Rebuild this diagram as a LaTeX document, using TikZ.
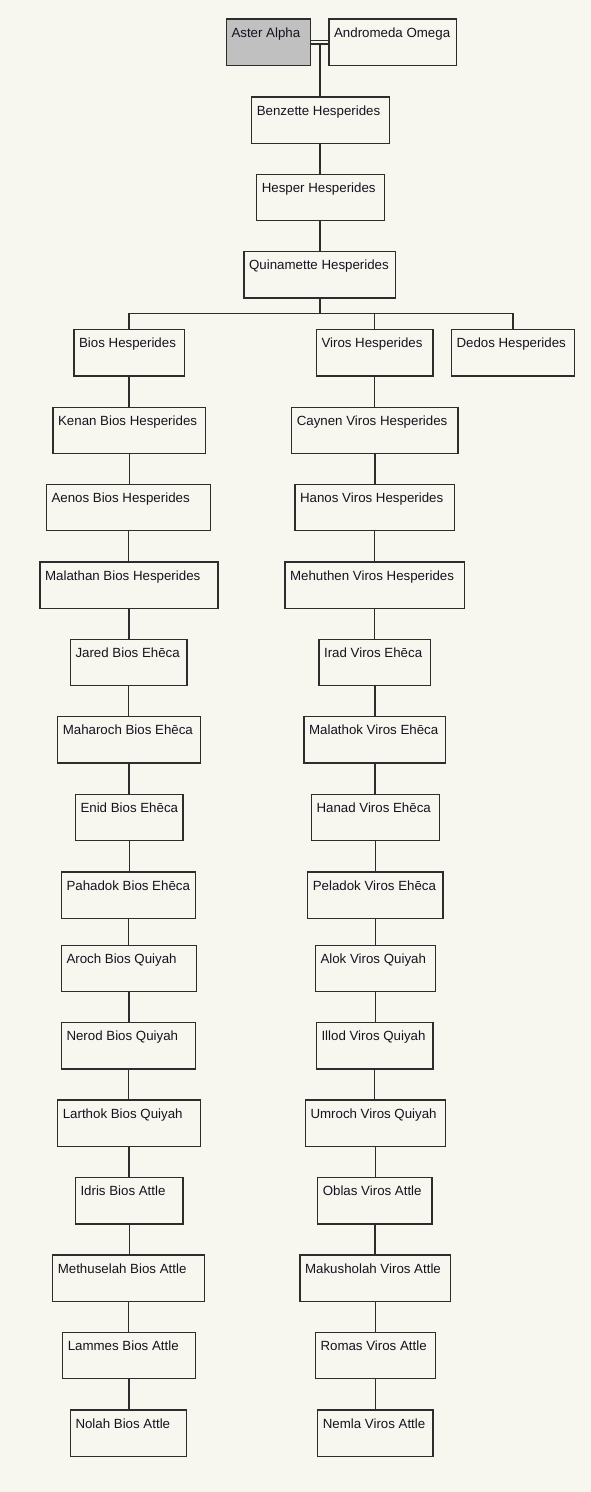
\documentclass[tikz,border=0pt]{standalone}
\usepackage{fontspec}
\setmainfont{Liberation Sans}
\definecolor{bgc}{RGB}{247,246,239}
\definecolor{linec}{RGB}{45,45,45}
\definecolor{txtc}{RGB}{20,20,30}
\definecolor{selc}{RGB}{192,192,192}
\tikzset{
  box/.style={draw=linec, line width=1.4pt, fill=bgc, rectangle, inner sep=0pt, anchor=north, minimum height=46.2pt},
  lbl/.style={anchor=base west, inner sep=0pt, text=txtc, font=\fontsize{13.3}{16}\selectfont},
  conn/.style={draw=linec, line width=1.4pt},
}
\newcommand{\bx}[6][]{%
  \node[box,#1, minimum width={#4-#3-1.4}] (#2) at ({(#3+#4)/2},{#5+0.7}) {};
  \node[lbl] at ([xshift=5.6pt,yshift=-18.8pt]#2.north west) {#6};
}
\begin{document}
\begin{tikzpicture}[x=1pt,y=-1pt]
\fill[bgc] (0,0) rectangle (591,1492);
\useasboundingbox (0,0) rectangle (591,1492);

% top rows
\bx[fill=selc]{aster}{225.7}{311.3}{17.7}{Aster Alpha}
\bx{andro}{328.3}{457.3}{17.7}{Andromeda Omega}
\bx{benz}{251}{390}{95.7}{Benzette Hesperides}
\bx{hesp}{256}{385}{173}{Hesper Hesperides}
\bx{quin}{243.3}{396}{250.3}{Quinamette Hesperides}

% row 4
\bx{bios}{73.3}{185}{328.3}{Bios Hesperides}
\bx{viros}{315.7}{433.7}{328.3}{Viros Hesperides}
\bx{dedos}{450.7}{575}{328.3}{Dedos Hesperides}

% left column
\bx{kenan}{52.3}{206.3}{406}{Kenan Bios Hesperides}
\bx{aenos}{45.7}{211.3}{483}{Aenos Bios Hesperides}
\bx{malathan}{39.3}{218.7}{560.7}{Malathan Bios Hesperides}
\bx{jared}{69.7}{187.7}{638}{Jared Bios Ehēca}
\bx{maharoch}{57}{201.3}{715.3}{Maharoch Bios Ehēca}
\bx{enid}{74.7}{183.7}{793}{Enid Bios Ehēca}
\bx{pahadok}{60.7}{196.3}{870.7}{Pahadok Bios Ehēca}
\bx{aroch}{60.7}{197.3}{944}{Aroch Bios Quiyah}
\bx{nerod}{60.7}{196.3}{1021.3}{Nerod Bios Quiyah}
\bx{larthok}{57}{201.3}{1098.7}{Larthok Bios Quiyah}
\bx{idris}{74.7}{183.7}{1176.3}{Idris Bios Attle}
\bx{methuselah}{52}{205}{1253.7}{Methuselah Bios Attle}
\bx{lammes}{62}{196.3}{1331}{Lammes Bios Attle}
\bx{nolah}{69.7}{187.3}{1408.7}{Nolah Bios Attle}

% right column
\bx{caynen}{291}{458.7}{406}{Caynen Viros Hesperides}
\bx{hanos}{294.3}{455}{483}{Hanos Viros Hesperides}
\bx{mehuthen}{284.3}{465}{560.7}{Mehuthen Viros Hesperides}
\bx{irad}{318.3}{431.3}{638}{Irad Viros Ehēca}
\bx{malathok}{303.3}{446.3}{715.3}{Malathok Viros Ehēca}
\bx{hanad}{310.7}{440}{793}{Hanad Viros Ehēca}
\bx{peladok}{307}{443.7}{870.7}{Peladok Viros Ehēca}
\bx{alok}{314.7}{436}{944}{Alok Viros Quiyah}
\bx{illod}{315.7}{433.7}{1021.3}{Illod Viros Quiyah}
\bx{umroch}{304.7}{446.3}{1098.7}{Umroch Viros Quiyah}
\bx{oblas}{317}{432.7}{1176.3}{Oblas Viros Attle}
\bx{makusholah}{299.3}{451.3}{1253.7}{Makusholah Viros Attle}
\bx{romas}{314.7}{436.3}{1331}{Romas Viros Attle}
\bx{nemla}{317}{433.7}{1408.7}{Nemla Viros Attle}

% marriage double line
\draw[conn] ([yshift=-22.3pt]aster.north east) -- ([yshift=-22.3pt]andro.north west);
\path ([yshift=-25.6pt]aster.north east) -- ([yshift=-25.6pt]andro.north west) coordinate[midway] (mar);
\draw[conn] ([yshift=-25.6pt]aster.north east) -- ([yshift=-25.6pt]andro.north west);
\draw[conn] (mar) -- (mar |- benz.north);

% trunk
\draw[conn] (benz.south -| mar) -- (hesp.north -| mar);
\draw[conn] (hesp.south -| mar) -- (quin.north -| mar);

% bus
\coordinate (bus) at (320,313.3);
\draw[conn] (quin.south -| mar) -- (bus -| mar);
\draw[conn] (bios.north) |- (bus) -| (dedos.north);
\draw[conn] (viros.north) -- (viros.north |- bus);

% left chain
\foreach \a/\b in {bios/kenan,kenan/aenos,aenos/malathan,malathan/jared,jared/maharoch,maharoch/enid,enid/pahadok,pahadok/aroch,aroch/nerod,nerod/larthok,larthok/idris,idris/methuselah,methuselah/lammes,lammes/nolah}
  \draw[conn] (\a.south) -- (\a.south |- \b.north);
% right chain
\foreach \a/\b in {viros/caynen,caynen/hanos,hanos/mehuthen,mehuthen/irad,irad/malathok,malathok/hanad,hanad/peladok,peladok/alok,alok/illod,illod/umroch,umroch/oblas,oblas/makusholah,makusholah/romas,romas/nemla}
  \draw[conn] (\a.south) -- (\a.south |- \b.north);
\end{tikzpicture}
\end{document}
